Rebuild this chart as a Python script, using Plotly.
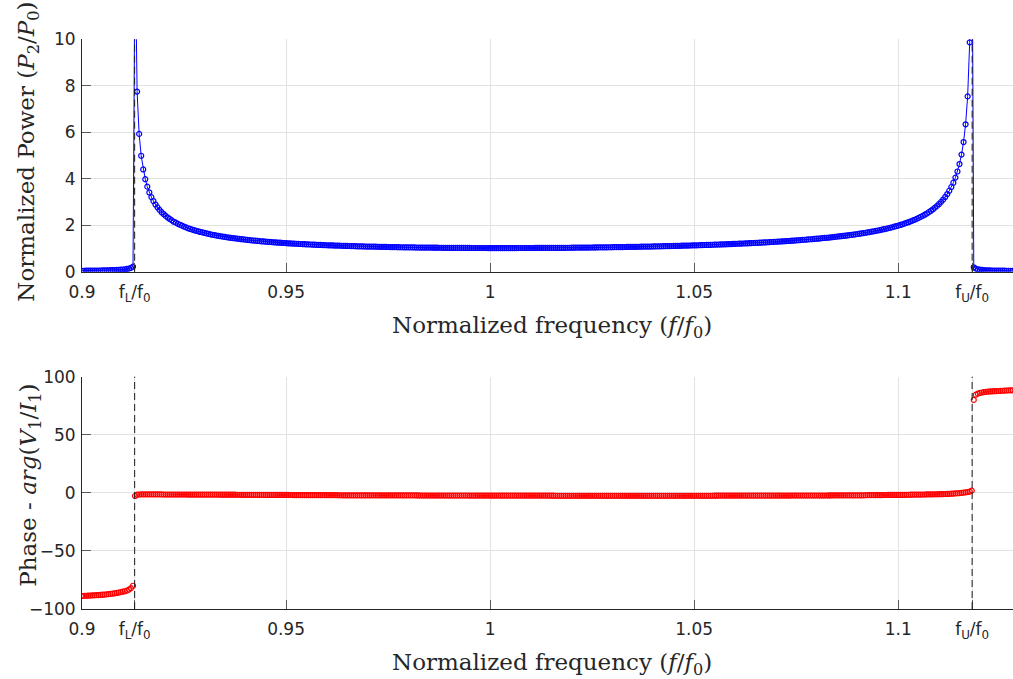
import plotly.graph_objects as go

# ---------------- data ----------------
freq = [
0.9000,0.9005,0.9010,0.9015,0.9020,0.9025,0.9030,0.9035,0.9040,0.9045,0.9050,0.9055,0.9060,0.9065,0.9070,0.9075,0.9080,0.9085,0.9090,0.9095,
0.9100,0.9105,0.9110,0.9115,0.9120,0.9125,0.9130,0.9135,0.9140,0.9145,0.9150,0.9155,0.9160,0.9165,0.9170,0.9175,0.9180,0.9185,0.9190,0.9195,
0.9200,0.9205,0.9210,0.9215,0.9220,0.9225,0.9230,0.9235,0.9240,0.9245,0.9250,0.9255,0.9260,0.9265,0.9270,0.9275,0.9280,0.9285,0.9290,0.9295,
0.9300,0.9305,0.9310,0.9315,0.9320,0.9325,0.9330,0.9335,0.9340,0.9345,0.9350,0.9355,0.9360,0.9365,0.9370,0.9375,0.9380,0.9385,0.9390,0.9395,
0.9400,0.9405,0.9410,0.9415,0.9420,0.9425,0.9430,0.9435,0.9440,0.9445,0.9450,0.9455,0.9460,0.9465,0.9470,0.9475,0.9480,0.9485,0.9490,0.9495,
0.9500,0.9505,0.9510,0.9515,0.9520,0.9525,0.9530,0.9535,0.9540,0.9545,0.9550,0.9555,0.9560,0.9565,0.9570,0.9575,0.9580,0.9585,0.9590,0.9595,
0.9600,0.9605,0.9610,0.9615,0.9620,0.9625,0.9630,0.9635,0.9640,0.9645,0.9650,0.9655,0.9660,0.9665,0.9670,0.9675,0.9680,0.9685,0.9690,0.9695,
0.9700,0.9705,0.9710,0.9715,0.9720,0.9725,0.9730,0.9735,0.9740,0.9745,0.9750,0.9755,0.9760,0.9765,0.9770,0.9775,0.9780,0.9785,0.9790,0.9795,
0.9800,0.9805,0.9810,0.9815,0.9820,0.9825,0.9830,0.9835,0.9840,0.9845,0.9850,0.9855,0.9860,0.9865,0.9870,0.9875,0.9880,0.9885,0.9890,0.9895,
0.9900,0.9905,0.9910,0.9915,0.9920,0.9925,0.9930,0.9935,0.9940,0.9945,0.9950,0.9955,0.9960,0.9965,0.9970,0.9975,0.9980,0.9985,0.9990,0.9995,
1.0000,1.0005,1.0010,1.0015,1.0020,1.0025,1.0030,1.0035,1.0040,1.0045,1.0050,1.0055,1.0060,1.0065,1.0070,1.0075,1.0080,1.0085,1.0090,1.0095,
1.0100,1.0105,1.0110,1.0115,1.0120,1.0125,1.0130,1.0135,1.0140,1.0145,1.0150,1.0155,1.0160,1.0165,1.0170,1.0175,1.0180,1.0185,1.0190,1.0195,
1.0200,1.0205,1.0210,1.0215,1.0220,1.0225,1.0230,1.0235,1.0240,1.0245,1.0250,1.0255,1.0260,1.0265,1.0270,1.0275,1.0280,1.0285,1.0290,1.0295,
1.0300,1.0305,1.0310,1.0315,1.0320,1.0325,1.0330,1.0335,1.0340,1.0345,1.0350,1.0355,1.0360,1.0365,1.0370,1.0375,1.0380,1.0385,1.0390,1.0395,
1.0400,1.0405,1.0410,1.0415,1.0420,1.0425,1.0430,1.0435,1.0440,1.0445,1.0450,1.0455,1.0460,1.0465,1.0470,1.0475,1.0480,1.0485,1.0490,1.0495,
1.0500,1.0505,1.0510,1.0515,1.0520,1.0525,1.0530,1.0535,1.0540,1.0545,1.0550,1.0555,1.0560,1.0565,1.0570,1.0575,1.0580,1.0585,1.0590,1.0595,
1.0600,1.0605,1.0610,1.0615,1.0620,1.0625,1.0630,1.0635,1.0640,1.0645,1.0650,1.0655,1.0660,1.0665,1.0670,1.0675,1.0680,1.0685,1.0690,1.0695,
1.0700,1.0705,1.0710,1.0715,1.0720,1.0725,1.0730,1.0735,1.0740,1.0745,1.0750,1.0755,1.0760,1.0765,1.0770,1.0775,1.0780,1.0785,1.0790,1.0795,
1.0800,1.0805,1.0810,1.0815,1.0820,1.0825,1.0830,1.0835,1.0840,1.0845,1.0850,1.0855,1.0860,1.0865,1.0870,1.0875,1.0880,1.0885,1.0890,1.0895,
1.0900,1.0905,1.0910,1.0915,1.0920,1.0925,1.0930,1.0935,1.0940,1.0945,1.0950,1.0955,1.0960,1.0965,1.0970,1.0975,1.0980,1.0985,1.0990,1.0995,
1.1000,1.1005,1.1010,1.1015,1.1020,1.1025,1.1030,1.1035,1.1040,1.1045,1.1050,1.1055,1.1060,1.1065,1.1070,1.1075,1.1080,1.1085,1.1090,1.1095,
1.1100,1.1105,1.1110,1.1115,1.1120,1.1125,1.1130,1.1135,1.1140,1.1145,1.1150,1.1155,1.1160,1.1165,1.1170,1.1175,1.1180,1.1185,1.1190,1.1195,
1.1200,1.1205,1.1210,1.1215,1.1220,1.1225,1.1230,1.1235,1.1240,1.1245,1.1250,1.1255,1.1260,1.1265,1.1270,1.1275,1.1280,
]

power = [
0.040,0.041,0.042,0.043,0.044,0.045,0.047,0.048,0.050,0.052,0.054,0.056,0.058,0.061,0.064,0.067,0.071,0.076,0.081,0.087,
0.095,0.105,0.118,0.135,0.165,0.220,14.47,7.75,5.93,4.99,4.40,3.98,3.66,3.41,3.21,3.04,2.89,2.77,2.66,2.56,
2.48,2.40,2.33,2.27,2.21,2.15,2.11,2.06,2.02,1.98,1.94,1.905,1.87,1.84,1.81,1.785,1.76,1.735,1.71,1.69,
1.670,1.647,1.626,1.607,1.589,1.572,1.556,1.540,1.525,1.510,1.496,1.482,1.469,1.456,1.444,1.432,1.421,1.410,1.399,1.389,
1.379,1.369,1.360,1.351,1.342,1.333,1.325,1.317,1.309,1.301,1.294,1.287,1.280,1.273,1.266,1.259,1.253,1.247,1.241,1.235,
1.229,1.223,1.218,1.212,1.207,1.202,1.197,1.192,1.188,1.183,1.179,1.174,1.170,1.166,1.162,1.158,1.154,1.150,1.146,1.142,
1.139,1.135,1.132,1.129,1.126,1.123,1.120,1.117,1.114,1.111,1.108,1.105,1.102,1.099,1.097,1.094,1.092,1.089,1.087,1.085,
1.083,1.081,1.079,1.077,1.075,1.073,1.071,1.069,1.067,1.065,1.063,1.061,1.060,1.058,1.056,1.054,1.053,1.051,1.050,1.048,
1.047,1.046,1.045,1.043,1.042,1.041,1.040,1.038,1.037,1.036,1.035,1.034,1.033,1.032,1.032,1.031,1.030,1.029,1.028,1.027,
1.027,1.026,1.026,1.025,1.025,1.024,1.023,1.022,1.022,1.021,1.021,1.020,1.020,1.020,1.020,1.019,1.019,1.019,1.019,1.018,
1.018,1.018,1.018,1.018,1.018,1.018,1.018,1.018,1.018,1.018,1.018,1.018,1.018,1.018,1.019,1.019,1.019,1.019,1.020,1.020,
1.020,1.020,1.021,1.021,1.022,1.022,1.023,1.023,1.024,1.024,1.025,1.025,1.026,1.026,1.027,1.028,1.029,1.029,1.030,1.031,
1.032,1.033,1.034,1.035,1.036,1.037,1.038,1.039,1.040,1.041,1.042,1.043,1.044,1.045,1.046,1.047,1.049,1.050,1.051,1.052,
1.054,1.055,1.057,1.058,1.060,1.061,1.063,1.064,1.066,1.067,1.069,1.070,1.072,1.074,1.076,1.078,1.080,1.081,1.083,1.085,
1.087,1.089,1.091,1.093,1.095,1.097,1.099,1.101,1.104,1.106,1.108,1.110,1.113,1.115,1.118,1.120,1.123,1.125,1.128,1.131,
1.134,1.136,1.139,1.142,1.145,1.148,1.151,1.154,1.157,1.160,1.163,1.166,1.170,1.173,1.176,1.179,1.183,1.186,1.190,1.194,
1.198,1.202,1.206,1.210,1.214,1.218,1.222,1.226,1.231,1.235,1.239,1.243,1.248,1.253,1.258,1.263,1.268,1.273,1.278,1.283,
1.288,1.293,1.299,1.304,1.310,1.316,1.322,1.328,1.334,1.340,1.347,1.354,1.361,1.367,1.374,1.381,1.389,1.396,1.404,1.411,
1.419,1.427,1.435,1.443,1.452,1.461,1.470,1.479,1.489,1.498,1.508,1.518,1.528,1.538,1.549,1.560,1.572,1.584,1.596,1.609,
1.622,1.635,1.649,1.663,1.677,1.692,1.707,1.723,1.739,1.756,1.773,1.791,1.810,1.829,1.849,1.870,1.891,1.913,1.937,1.961,
1.986,2.012,2.040,2.069,2.099,2.130,2.163,2.198,2.234,2.273,2.314,2.358,2.404,2.453,2.505,2.561,2.621,2.686,2.755,2.832,
2.915,3.005,3.105,3.217,3.342,3.483,3.644,3.830,4.049,4.311,4.632,5.039,5.579,6.342,7.544,9.870,18.45,0.190,0.130,0.100,
0.085,0.075,0.068,0.062,0.058,0.055,0.052,0.050,0.048,0.046,0.044,0.043,0.042,0.041,0.040,0.039,0.038,
]

phase = [
-88.8,-88.7,-88.6,-88.5,-88.4,-88.3,-88.2,-88.1,-88.0,-87.9,-87.7,-87.6,-87.4,-87.2,-87.0,-86.8,-86.5,-86.2,-85.9,-85.5,
-85.1,-84.7,-84.2,-83.3,-82.0,-80.0,-2.7,-1.6,-1.4,-1.35,-1.3,-1.3,-1.3,-1.3,-1.3,-1.3,-1.3,-1.3,-1.3,-1.35,
-1.4,-1.4,-1.4,-1.4,-1.4,-1.4,-1.4,-1.4,-1.4,-1.4,-1.4,-1.4,-1.45,-1.45,-1.5,-1.5,-1.5,-1.5,-1.5,-1.5,
-1.5,-1.5,-1.5,-1.5,-1.5,-1.5,-1.55,-1.55,-1.6,-1.6,-1.6,-1.6,-1.6,-1.6,-1.6,-1.6,-1.65,-1.65,-1.7,-1.7,
-1.7,-1.7,-1.7,-1.7,-1.7,-1.7,-1.7,-1.7,-1.75,-1.75,-1.8,-1.8,-1.8,-1.8,-1.8,-1.8,-1.8,-1.8,-1.8,-1.8,
-1.8,-1.8,-1.85,-1.85,-1.9,-1.9,-1.9,-1.9,-1.9,-1.9,-1.9,-1.9,-1.9,-1.9,-1.9,-1.9,-1.95,-1.95,-2.0,-2.0,
-2.0,-2.0,-2.0,-2.0,-2.0,-2.0,-2.05,-2.05,-2.1,-2.1,-2.1,-2.1,-2.1,-2.1,-2.1,-2.1,-2.1,-2.1,-2.1,-2.1,
-2.1,-2.1,-2.15,-2.15,-2.2,-2.2,-2.2,-2.2,-2.2,-2.2,-2.2,-2.2,-2.2,-2.2,-2.2,-2.2,-2.2,-2.2,-2.2,-2.2,
-2.2,-2.2,-2.2,-2.2,-2.25,-2.25,-2.3,-2.3,-2.3,-2.3,-2.3,-2.3,-2.3,-2.3,-2.3,-2.3,-2.3,-2.3,-2.3,-2.3,
-2.3,-2.3,-2.3,-2.3,-2.3,-2.3,-2.3,-2.3,-2.3,-2.3,-2.35,-2.35,-2.4,-2.4,-2.4,-2.4,-2.4,-2.4,-2.4,-2.4,
-2.4,-2.4,-2.4,-2.4,-2.4,-2.4,-2.4,-2.4,-2.4,-2.4,-2.4,-2.4,-2.4,-2.4,-2.4,-2.4,-2.4,-2.4,-2.4,-2.4,
-2.4,-2.4,-2.4,-2.4,-2.4,-2.4,-2.4,-2.4,-2.4,-2.4,-2.45,-2.45,-2.5,-2.5,-2.5,-2.5,-2.5,-2.5,-2.5,-2.5,
-2.5,-2.5,-2.5,-2.5,-2.5,-2.5,-2.5,-2.5,-2.5,-2.5,-2.5,-2.5,-2.5,-2.5,-2.5,-2.5,-2.5,-2.5,-2.5,-2.5,
-2.5,-2.5,-2.5,-2.5,-2.5,-2.5,-2.5,-2.5,-2.5,-2.5,-2.5,-2.5,-2.5,-2.5,-2.5,-2.5,-2.5,-2.5,-2.5,-2.5,
-2.5,-2.5,-2.5,-2.5,-2.5,-2.5,-2.5,-2.5,-2.5,-2.5,-2.5,-2.5,-2.5,-2.5,-2.5,-2.5,-2.5,-2.5,-2.5,-2.5,
-2.5,-2.5,-2.5,-2.5,-2.5,-2.5,-2.5,-2.5,-2.5,-2.5,-2.45,-2.45,-2.4,-2.4,-2.4,-2.4,-2.4,-2.4,-2.4,-2.4,
-2.4,-2.4,-2.4,-2.4,-2.4,-2.4,-2.4,-2.4,-2.4,-2.4,-2.4,-2.4,-2.4,-2.4,-2.4,-2.4,-2.4,-2.4,-2.4,-2.4,
-2.4,-2.4,-2.4,-2.4,-2.4,-2.4,-2.35,-2.35,-2.3,-2.3,-2.3,-2.3,-2.3,-2.3,-2.3,-2.3,-2.3,-2.3,-2.3,-2.3,
-2.3,-2.3,-2.3,-2.3,-2.3,-2.3,-2.25,-2.25,-2.2,-2.2,-2.2,-2.2,-2.2,-2.2,-2.2,-2.2,-2.2,-2.2,-2.2,-2.2,
-2.2,-2.15,-2.1,-2.1,-2.05,-2.0,-2.0,-2.0,-2.0,-1.95,-1.9,-1.9,-1.9,-1.85,-1.85,-1.8,-1.8,-1.8,-1.8,-1.8,
-1.8,-1.8,-1.75,-1.7,-1.7,-1.65,-1.6,-1.6,-1.55,-1.5,-1.5,-1.45,-1.4,-1.4,-1.35,-1.3,-1.3,-1.25,-1.2,-1.2,
-1.15,-1.1,-1.05,-1.0,-0.95,-0.85,-0.75,-0.65,-0.5,-0.35,-0.2,0.0,0.2,0.45,0.7,1.1,1.9,80.0,84.5,85.4,
86.0,86.4,86.7,86.9,87.1,87.3,87.4,87.5,87.6,87.7,87.8,87.9,88.0,88.1,88.2,88.25,88.3,
]

assert len(freq) == len(power) == len(phase), (len(freq), len(power), len(phase))

f_lower = 0.9129
f_upper = 1.1181
x_tick_vals = [0.9, f_lower, 0.95, 1.0, 1.05, 1.1, f_upper]
x_tick_text = ["0.9", "f<sub>L</sub>/f<sub>0</sub>", "0.95", "1", "1.05", "1.1",
               "f<sub>U</sub>/f<sub>0</sub>"]
power_ticks = [0, 2, 4, 6, 8, 10]
phase_ticks = [-100, -50, 0, 50, 100]

# ---------------- figure ----------------
W, H = 1013, 679
L = 82.3
PXU = 4080.0          # pixels per unit of f/f0
x_range = [0.9, 0.9 + (W - L) / PXU]

def ydom(top_px, bot_px):
    return [1 - bot_px / H, 1 - top_px / H]

TICKFONT = dict(family="DejaVu Sans, Liberation Sans, sans-serif", size=17, color="#262626")
TITLEFONT = dict(family="DejaVu Serif, Liberation Serif, serif", size=23, color="#262626")
GRID = "#e2e2e2"
AXC = "#262626"

fig = go.Figure()
fig.add_trace(go.Scatter(
    x=freq, y=power, mode="lines+markers", xaxis="x", yaxis="y",
    line=dict(color="#0000ff", width=1),
    marker=dict(symbol="circle-open", size=5, color="#0000ff", line=dict(width=1.2)),
    showlegend=False, cliponaxis=True))
fig.add_trace(go.Scatter(
    x=freq, y=phase, mode="markers", xaxis="x2", yaxis="y2",
    marker=dict(symbol="circle-open", size=5, color="#ff0000", line=dict(width=1.2)),
    showlegend=False, cliponaxis=True))

xcommon = dict(range=x_range, tickvals=x_tick_vals, ticktext=x_tick_text,
               showgrid=True, gridcolor=GRID, gridwidth=1,
               ticks="inside", ticklen=9, tickcolor="#5a5a5a", tickwidth=1,
               showline=True, linecolor=AXC, linewidth=1, mirror=False,
               zeroline=False, tickfont=TICKFONT, ticklabelstandoff=5,
               automargin=False, domain=[0, 1])
ycommon = dict(showgrid=True, gridcolor=GRID, gridwidth=1,
               ticks="inside", ticklen=9, tickcolor="#5a5a5a", tickwidth=1,
               showline=True, linecolor=AXC, linewidth=1, mirror=False,
               zeroline=False, tickfont=TICKFONT, ticklabelstandoff=2,
               automargin=False)

fig.update_layout(
    width=W, height=H,
    margin=dict(l=L, r=0, t=0, b=0, autoexpand=False),
    paper_bgcolor="white", plot_bgcolor="white",
    xaxis=dict(anchor="y", **xcommon),
    yaxis=dict(anchor="x", range=[0, 10], tickvals=power_ticks,
               domain=ydom(39.3, 271.7), **ycommon),
    xaxis2=dict(anchor="y2", **xcommon),
    yaxis2=dict(anchor="x2", range=[-100, 100], tickvals=phase_ticks,
                domain=ydom(376.7, 609.0), **ycommon),
)

for xr, yr in (("x", "y domain"), ("x2", "y2 domain")):
    for fv in (f_lower, f_upper):
        fig.add_shape(type="line", xref=xr, yref=yr, x0=fv, x1=fv, y0=0, y1=1,
                      line=dict(color="#1a1a1a", width=1, dash="7px,4px"), layer="above")

pw = W - L
def px_to_paper_x(px):
    return (px - L) / pw

annos = [
    dict(text="Normalized frequency (<i>f</i>/<i>f</i><sub>0</sub>)",
         x=px_to_paper_x(552), y=1 - 327 / H),
    dict(text="Normalized frequency (<i>f</i>/<i>f</i><sub>0</sub>)",
         x=px_to_paper_x(552), y=1 - 664 / H),
    dict(text="Normalized Power (<i>P</i><sub>2</sub>/<i>P</i><sub>0</sub>)",
         x=px_to_paper_x(28), y=1 - 152 / H, textangle=-90),
    dict(text="Phase - <i>arg</i>(<i>V</i><sub>1</sub>/<i>I</i><sub>1</sub>)",
         x=px_to_paper_x(30), y=1 - 485 / H, textangle=-90),
]
for a in annos:
    fig.add_annotation(xref="paper", yref="paper", showarrow=False,
                       xanchor="center", yanchor="middle", font=TITLEFONT, **a)

fig.write_html("out.html")
